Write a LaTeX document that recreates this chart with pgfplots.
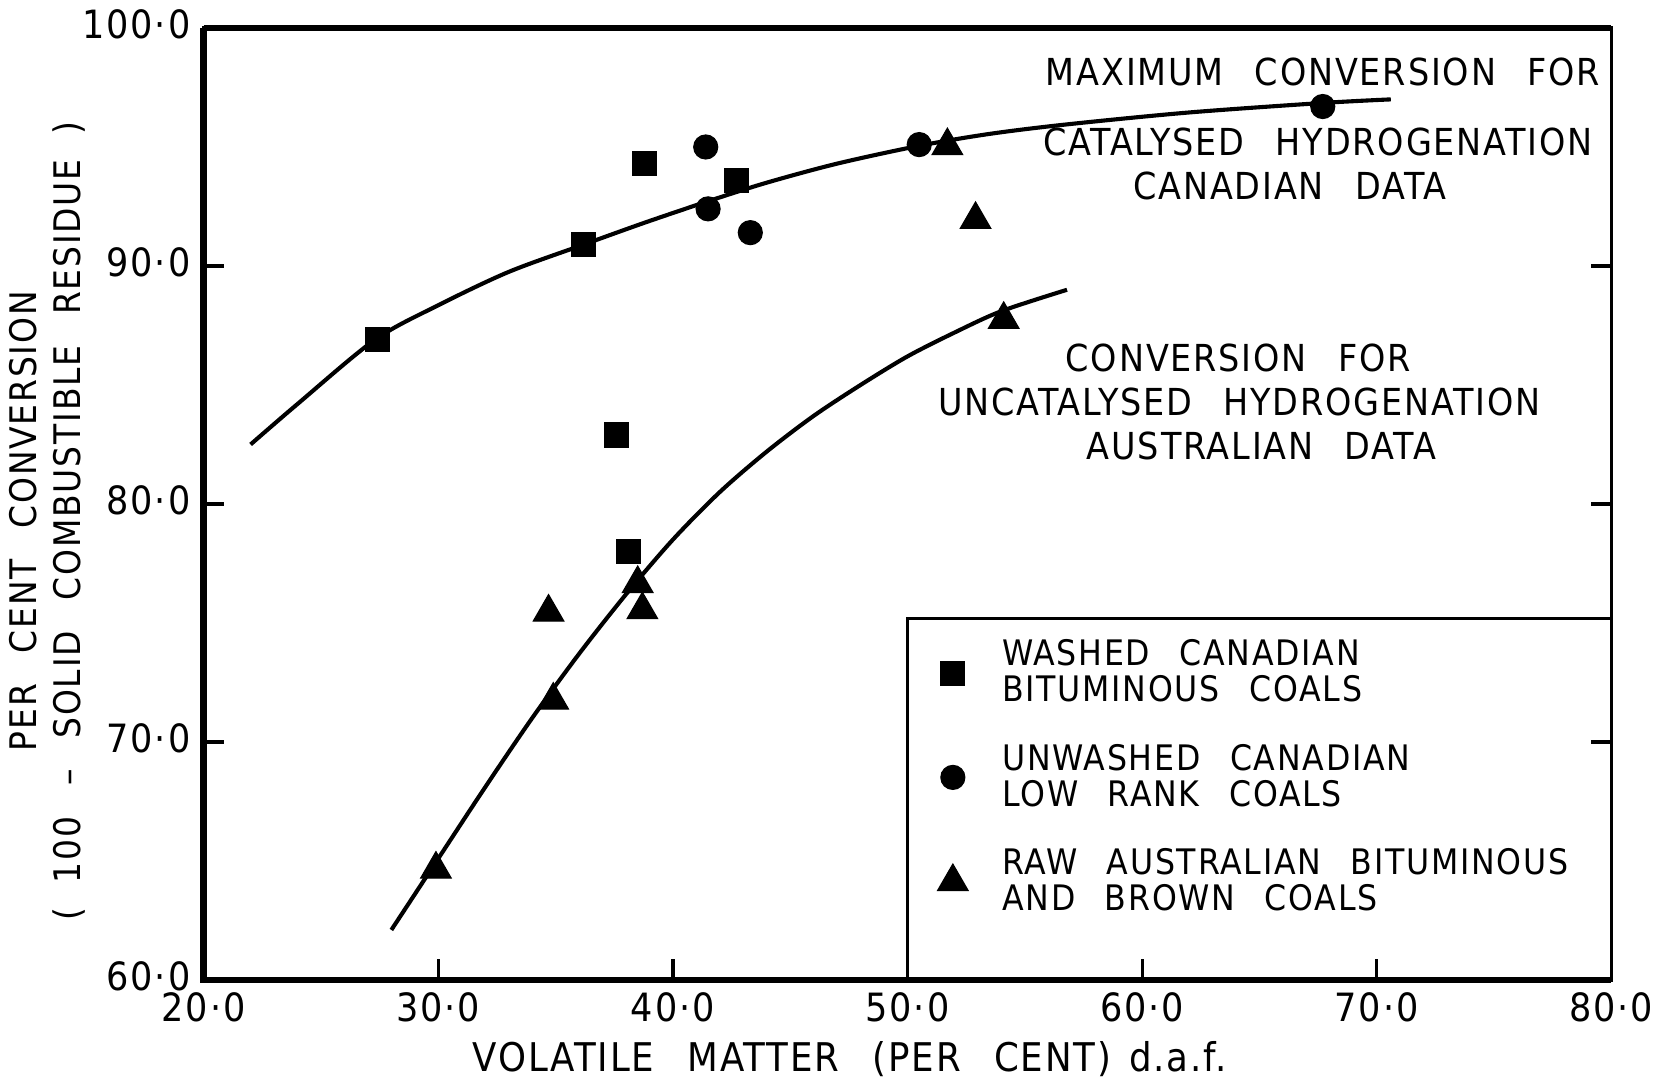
\documentclass[border=0pt]{standalone}
\usepackage{fontspec}
\setmainfont[LetterSpace=5,WordSpace=2.5]{DejaVu Sans Condensed}
\usepackage{pgfplots}
\pgfplotsset{compat=1.18}
\begin{document}
\begin{tikzpicture}
\begin{axis}[
  scale only axis, width=480.6pt, height=325pt,
  xmin=20, xmax=80, ymin=60, ymax=100,
  clip=false,
  xtick={20,30,...,80}, ytick={60,70,...,100},
  xticklabels={20·0,30·0,40·0,50·0,60·0,70·0,80·0},
  yticklabels={60·0,70·0,80·0,90·0,100·0},
  tick align=inside, xtick pos=left, ytick pos=both, yticklabel pos=left,
  major tick length=7pt,
  every tick/.style={black, line width=1.1pt},
  axis line style={line width=1.1pt},
  ticklabel style={font=\fontsize{13.3}{14}\selectfont},
  yticklabel style={xshift=-1pt, yshift=1.2pt},
  xticklabel style={yshift=-0.8pt},
  xlabel={VOLATILE MATTER (PER CENT)\hspace{6pt}d.a.f.},
  xlabel style={at={(axis description cs:0.459,0)}, anchor=center, yshift=-27pt, inner sep=1pt, font=\fontsize{13.5}{15}\selectfont},
  ylabel={PER CENT CONVERSION\\(\hspace{-2pt} 100 -- SOLID COMBUSTIBLE RESIDUE \hspace{-2pt})},
  ylabel style={at={(axis description cs:-0.111,0.482)}, anchor=center, align=center, font=\fontsize{12.5}{14.8}\selectfont},
  legend style={at={(0.521,0.364)}, anchor=north west, draw=none, fill=none,
    inner xsep=0pt, inner ysep=0pt, row sep=8.9pt,
    font=\fontsize{12}{12.3}\selectfont, nodes={align=left}},
  legend cell align=left,
  /tikz/every odd column/.append style={column sep=9.7pt},
]
% catalysed curve
\addplot[black, line width=1.4pt, smooth, forget plot] coordinates {
(22.0,82.5) (24.0,84.2) (27.3,86.9) (30.0,88.35) (33.0,89.75) (36.2,90.9)
(38.8,91.82) (41.5,92.72) (44.0,93.5) (47.0,94.3) (50.5,95.05) (53.5,95.55)
(56.8,95.95) (62.0,96.45) (67.7,96.85) (70.6,97.0)};
% uncatalysed curve
\addplot[black, line width=1.4pt, smooth, forget plot] coordinates {
(28.0,62.1) (30.0,65.1) (32.0,68.1) (34.0,71.0) (36.0,73.7) (38.0,76.2)
(40.0,78.5) (42.0,80.5) (44.0,82.2) (46.0,83.7) (48.0,85.0) (50.0,86.2)
(52.0,87.2) (54.0,88.1) (56.8,89.0)};
\addplot[only marks, mark=square*, mark size=4.1pt, black] coordinates {
(27.4,86.9) (36.2,90.9) (38.8,94.3) (42.7,93.6) (37.6,82.9) (38.1,78.0)};
\addlegendentry{WASHED CANADIAN\\BITUMINOUS COALS}
\addplot[only marks, mark=*, mark size=4.1pt, black] coordinates {
(41.4,95.0) (41.5,92.4) (43.3,91.4) (50.5,95.1) (67.7,96.7)};
\addlegendentry{UNWASHED CANADIAN\\LOW RANK COALS}
\addplot[only marks, mark=triangle*, mark size=6pt, black] coordinates {
(51.7,95.05) (52.9,91.95) (54.1,87.75) (34.7,75.45) (34.9,71.75)
(38.5,76.65) (38.7,75.55) (29.9,64.65)};
\addlegendentry{RAW AUSTRALIAN BITUMINOUS\\AND BROWN COALS}
% heavier frame sides
\draw[line width=2.2pt] (rel axis cs:0,1) -- (rel axis cs:0,0) -- (rel axis cs:1,0);
\draw[line width=1.8pt] (rel axis cs:0,1) -- (rel axis cs:1,1);
% legend frame
\draw[line width=1.1pt] (axis cs:50,60) -- (axis cs:50,75.19) -- (axis cs:80,75.19);
% annotations
\begin{scope}[every node/.style={anchor=west, font=\fontsize{12.7}{14}\selectfont, inner sep=0pt}]
\node at (axis cs:55.87,98.17) {MAXIMUM CONVERSION FOR};
\node at (axis cs:55.78,95.23) {CATALYSED HYDROGENATION};
\node at (axis cs:59.6,93.36) {CANADIAN DATA};
\node at (axis cs:56.72,86.15) {CONVERSION FOR};
\node at (axis cs:51.28,84.28) {UNCATALYSED HYDROGENATION};
\node at (axis cs:57.62,82.45) {AUSTRALIAN DATA};
\end{scope}
\end{axis}
\end{tikzpicture}
\end{document}
